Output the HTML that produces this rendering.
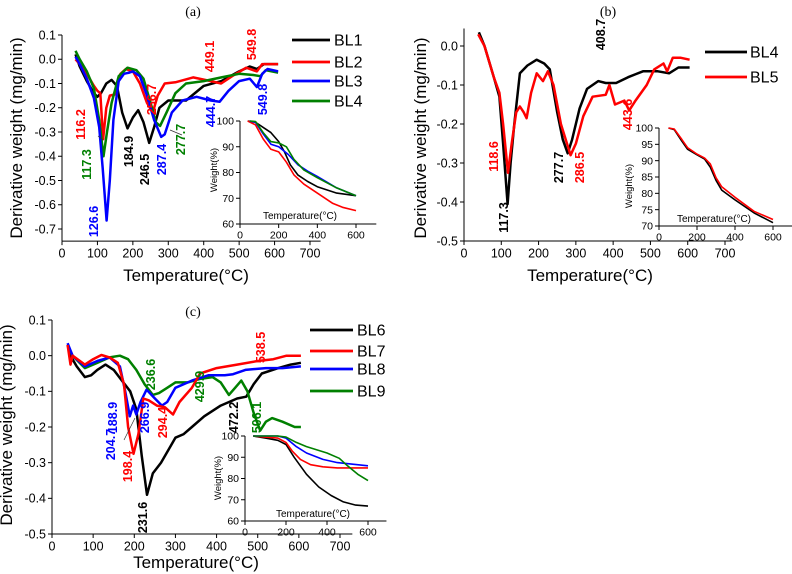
<!DOCTYPE html>
<html><head><meta charset="utf-8">
<style>
html,body{margin:0;padding:0;background:#fff;}
svg{display:block;font-family:"Liberation Sans",Arial,sans-serif;}
</style></head>
<body>
<svg id="fig" width="792" height="574" viewBox="0 0 792 574" xmlns="http://www.w3.org/2000/svg"></svg>
<script>
// ---------- DATA (temperature °C, derivative weight mg/min) ----------
const aBL1T=[38,50,70,90,100,110,125,140,155,170,185,200,215,230,246,260,275,300,350,400,450,500,530,550,570,610];
const aBL1V=[0.02,-0.03,-0.09,-0.14,-0.155,-0.14,-0.1,-0.085,-0.11,-0.22,-0.285,-0.24,-0.21,-0.26,-0.345,-0.28,-0.2,-0.17,-0.17,-0.11,-0.09,-0.05,-0.03,-0.04,-0.02,-0.02];
const aBL2T=[38,50,70,90,100,108,116,125,135,150,165,180,200,220,240,256,270,290,320,370,420,449,480,520,550,565,610];
const aBL2V=[0.0,-0.02,-0.06,-0.11,-0.13,-0.14,-0.33,-0.2,-0.15,-0.145,-0.06,-0.04,-0.05,-0.1,-0.18,-0.22,-0.15,-0.1,-0.095,-0.075,-0.09,-0.1,-0.07,-0.035,-0.05,-0.02,-0.02];
const aBL3T=[38,50,70,90,105,115,126,135,145,160,175,190,200,220,240,260,280,290,310,340,380,420,445,470,500,530,550,565,580,610];
const aBL3V=[0.01,-0.02,-0.08,-0.16,-0.28,-0.45,-0.665,-0.5,-0.25,-0.09,-0.06,-0.055,-0.05,-0.07,-0.15,-0.25,-0.32,-0.31,-0.22,-0.17,-0.155,-0.17,-0.175,-0.13,-0.09,-0.08,-0.115,-0.06,-0.04,-0.05];
const aBL4T=[38,50,70,90,105,117,127,140,160,185,210,230,250,265,277,295,320,350,400,450,500,540,560,575,610];
const aBL4V=[0.035,0.0,-0.05,-0.12,-0.25,-0.4,-0.3,-0.18,-0.07,-0.035,-0.045,-0.08,-0.18,-0.26,-0.275,-0.22,-0.14,-0.1,-0.09,-0.075,-0.06,-0.065,-0.07,-0.045,-0.055];
const aiBL1T=[40,80,120,160,200,230,260,300,350,400,500,600];
const aiBL1V=[100,99.5,97.5,95.5,92,88,83,79,76.5,74.5,72,71];
const aiBL2T=[40,80,120,160,200,240,280,330,400,480,530,600];
const aiBL2V=[100,98.5,93,89,88,84,79,75.5,72,68,66.5,65.2];
const aiBL3T=[50,80,120,160,200,250,300,350,400,500,600];
const aiBL3V=[100,99.5,95,91,90,87,83,80.5,78.5,74,71];
const aiBL4T=[50,80,120,160,200,240,280,330,400,500,600];
const aiBL4V=[100,99.8,95.5,92,91.5,90,85,81,78,74,71];
const bBL4T=[40,55,80,95,105,117,125,135,150,170,195,215,230,250,265,278,290,310,330,360,380,408,440,480,520,550,575,605];
const bBL4V=[0.035,0.0,-0.08,-0.13,-0.25,-0.405,-0.3,-0.2,-0.07,-0.05,-0.035,-0.045,-0.06,-0.17,-0.24,-0.275,-0.24,-0.16,-0.11,-0.09,-0.095,-0.095,-0.08,-0.065,-0.065,-0.07,-0.055,-0.055];
const bBL5T=[38,55,80,95,105,118,128,140,150,160,168,180,195,212,225,240,260,286,300,320,345,380,390,405,430,443,460,490,510,535,545,560,580,605];
const bBL5V=[0.03,0.0,-0.08,-0.12,-0.2,-0.325,-0.25,-0.17,-0.155,-0.17,-0.185,-0.12,-0.07,-0.09,-0.065,-0.1,-0.2,-0.28,-0.25,-0.18,-0.13,-0.125,-0.1,-0.15,-0.14,-0.165,-0.14,-0.1,-0.06,-0.045,-0.065,-0.03,-0.03,-0.035];
const biBL4T=[50,80,120,150,200,240,270,300,330,400,500,600];
const biBL4V=[100,99.5,96,93.5,91.8,90.5,88,84,81,78,74,71];
const biBL5T=[50,80,120,150,200,240,270,300,330,400,500,600];
const biBL5V=[100,99.7,96.5,94,92,90.8,89,84.8,82,78.8,74.5,72];
const cBL6T=[38,45,60,80,95,110,130,150,170,190,205,218,231,245,265,285,300,320,340,370,410,450,472,490,510,550,580,605];
const cBL6V=[0.03,0.0,-0.03,-0.06,-0.055,-0.04,-0.025,-0.04,-0.07,-0.1,-0.15,-0.28,-0.39,-0.33,-0.3,-0.26,-0.23,-0.22,-0.2,-0.17,-0.14,-0.12,-0.115,-0.08,-0.05,-0.035,-0.025,-0.02];
const cBL7T=[38,45,50,80,100,120,140,160,175,185,198,210,222,235,255,275,294,310,340,360,400,450,500,538,570,605];
const cBL7V=[0.03,-0.025,0.0,-0.025,-0.01,0.002,-0.005,-0.02,-0.08,-0.2,-0.275,-0.22,-0.12,-0.125,-0.14,-0.145,-0.165,-0.13,-0.09,-0.05,-0.035,-0.025,-0.015,-0.01,0.0,0.0];
const cBL8T=[38,50,80,110,140,165,178,189,197,205,215,230,250,267,280,300,340,380,420,440,470,520,560,605];
const cBL8V=[0.035,0.0,-0.03,-0.015,-0.005,-0.03,-0.1,-0.17,-0.14,-0.165,-0.13,-0.095,-0.12,-0.14,-0.13,-0.09,-0.07,-0.055,-0.055,-0.052,-0.04,-0.035,-0.035,-0.03];
const cBL9T=[38,50,80,110,140,165,185,205,225,245,260,280,300,330,360,390,410,430,445,460,475,490,506,520,535,560,590,605];
const cBL9V=[0.03,0.0,-0.035,-0.02,-0.005,0.0,-0.01,-0.04,-0.08,-0.11,-0.105,-0.09,-0.075,-0.075,-0.065,-0.06,-0.075,-0.11,-0.09,-0.07,-0.1,-0.16,-0.21,-0.185,-0.175,-0.185,-0.2,-0.2];
const ciBL6T=[40,100,160,200,240,300,360,420,480,540,600];
const ciBL6V=[100,99,98,96,90,82,76,72,69,67.5,67];
const ciBL7T=[40,100,160,200,230,270,320,380,450,600];
const ciBL7V=[100,99.5,99,97,93,89,86.5,85.5,85,85];
const ciBL8T=[40,160,200,250,300,380,450,600];
const ciBL8V=[100,100,99,95,92,89,87.5,86];
const ciBL9T=[40,160,200,250,300,400,460,500,550,600];
const ciBL9V=[100,100,99.5,97,95,92,89.5,86,82,79];
const mainXTicks=[0,100,200,300,400,500,600,700];
const aYTicks=[0.1,0.0,-0.1,-0.2,-0.3,-0.4,-0.5,-0.6,-0.7];
const bYTicks=[0.0,-0.1,-0.2,-0.3,-0.4,-0.5];
const cYTicks=[0.1,0.0,-0.1,-0.2,-0.3,-0.4,-0.5];
const insetXTicks=[0,200,400,600];
const aiYTicks=[60,70,80,90,100];
const biYTicks=[70,75,80,85,90,95,100];
const ciYTicks=[60,70,80,90,100];

const NS="http://www.w3.org/2000/svg";
const svg=document.getElementById('fig');
function mk(tag,attrs,parent){const e=document.createElementNS(NS,tag);for(const k in attrs)e.setAttribute(k,attrs[k]);(parent||svg).appendChild(e);return e;}
function txt(s,x,y,size,fill,anchor,rot,weight,parent){
  const t=mk('text',{x:x,y:y,'font-size':size,fill:fill||'#000','text-anchor':anchor||'middle'},parent);
  if(weight)t.setAttribute('font-weight',weight);
  if(rot)t.setAttribute('transform','rotate('+rot+' '+x+' '+y+')');
  t.textContent=s;return t;}
function lin(x0,px0,x1,px1){return v=>px0+(v-x0)*(px1-px0)/(x1-x0);}

function axes(g,X,Y,xt,yt,xmin,xmax,ymin,ymax,fs,xFmt,yFmt,name){
  const ax=mk('g',{},g);
  
  
  mk('line',{x1:X(xmin),y1:Y(ymin),x2:X(xmax),y2:Y(ymin),stroke:'#000','stroke-width':1},ax);
  mk('line',{x1:X(xmin),y1:Y(ymin),x2:X(xmin),y2:Y(ymax),stroke:'#000','stroke-width':1},ax);
  xt.forEach(v=>{mk('line',{x1:X(v),y1:Y(ymin),x2:X(v),y2:Y(ymin)+4,stroke:'#000'},ax);
    txt(xFmt(v),X(v),Y(ymin)+4+fs,fs,'#000','middle',0,null,ax);});
  yt.forEach(v=>{mk('line',{x1:X(xmin),y1:Y(v),x2:X(xmin)-4,y2:Y(v),stroke:'#000'},ax);
    txt(yFmt(v),X(xmin)-6,Y(v)+fs*0.35,fs,'#000','end',0,null,ax);});
}
function series(g,X,Y,T,V,color,w,name){
  let d='';T.forEach((t,i)=>{d+=(i?'L':'M')+X(t).toFixed(1)+' '+Y(V[i]).toFixed(1);});
  const p=mk('path',{d:d,fill:'none',stroke:color,'stroke-width':w,'stroke-linejoin':'round'},g);
  
  
}
function legend(g,x1,x2,tx,items){
  items.forEach(it=>{
    const lg=mk('g',{},g);
    
    
    mk('line',{x1:x1,y1:it[2],x2:x2,y2:it[2],stroke:it[1],'stroke-width':2.8},lg);
    txt(it[0],tx,it[2]+5.5,16,'#000','start',0,null,lg);
  });
}
function labels(g,items){items.forEach(it=>{const t=txt(it[0],it[1],it[2]+4.5,12.5,it[3],'middle',-90,'bold',g);
  });}
const f1=v=>v.toFixed(1), f0=v=>String(v);
const C={k:'#000',r:'#ff0000',b:'#0000ff',g:'#008000'};

// ================= PANEL A =================
{
const g=mk('g',{});
const X=lin(0,62,700,310), Y=lin(0.1,35,-0.7,229);
txt('(a)',193,16,14,'#000','middle',0,null,g).setAttribute('font-family','Liberation Serif');
axes(g,X,Y,mainXTicks,aYTicks,0,730,-0.75,0.1,12.5,f0,f1,'panel-a-axes');
txt('Derivative weight (mg/min)',22,138,17,'#000','middle',-90,null,g);
txt('Temperature(°C)',186,281,17,'#000','middle',0,null,g);
series(g,X,Y,aBL1T,aBL1V,C.k,2.5,'series-bl1');
series(g,X,Y,aBL2T,aBL2V,C.r,2.5,'series-bl2');
series(g,X,Y,aBL4T,aBL4V,C.g,2.5,'series-bl4');
series(g,X,Y,aBL3T,aBL3V,C.b,2.5,'series-bl3');
legend(g,292,330,334,[['BL1',C.k,40],['BL2',C.r,62],['BL3',C.b,81],['BL4',C.g,101]]);
labels(g,[['116.2',85,120,C.r],['117.3',91,160,C.g],['126.6',98,217,C.b],['184.9',133,147,C.k],['246.5',149,165,C.k],['287.4',166,155,C.b],['256.7',156,95,C.r],['277.7',185,135,C.g],['444.7',215,107,C.b],['449.1',214,52,C.r],['549.8',256,40,C.r],['549.8',267,95,C.b]]);
mk('line',{x1:98,y1:136,x2:103,y2:140,stroke:'#333','stroke-width':0.7},g);
mk('line',{x1:170,y1:130,x2:182,y2:135,stroke:'#333','stroke-width':0.7},g);
const Xi=lin(0,240,600,356), Yi=lin(100,121,60,224);
const ig=mk('g',{},g);
axes(ig,Xi,Yi,insetXTicks,aiYTicks,0,705,60,100,10.5,f0,f0,'inset-a-axes');
txt('Weight(%)',217,170,9.5,'#000','middle',-90,null,ig);
txt('Temperature(°C)',300,219,10,'#000','middle',0,null,ig);
series(ig,Xi,Yi,aiBL1T,aiBL1V,C.k,1.6,'inset-bl1');
series(ig,Xi,Yi,aiBL2T,aiBL2V,C.r,1.6,'inset-bl2');
series(ig,Xi,Yi,aiBL3T,aiBL3V,C.b,1.6,'inset-bl3');
series(ig,Xi,Yi,aiBL4T,aiBL4V,C.g,1.6,'inset-bl4');
}
// ================= PANEL B =================
{
const g=mk('g',{});
const X=lin(0,464,700,725), Y=lin(0,46,-0.5,241);
txt('(b)',608,16,14,'#000','middle',0,null,g).setAttribute('font-family','Liberation Serif');
axes(g,X,Y,mainXTicks,bYTicks,0,720,-0.5,0.045,12.5,f0,f1,'panel-b-axes');
txt('Derivative weight (mg/min)',426,138,17,'#000','middle',-90,null,g);
txt('Temperature(°C)',590,281,17,'#000','middle',0,null,g);
series(g,X,Y,bBL4T,bBL4V,C.k,2.5,'series-bl4');
series(g,X,Y,bBL5T,bBL5V,C.r,2.5,'series-bl5');
legend(g,705,747,750,[['BL4',C.k,52],['BL5',C.r,77]]);
labels(g,[['118.6',498,152,C.r],['117.3',508,213,C.k],['277.7',563,163,C.k],['286.5',584,163,C.r],['408.7',605,30,C.k],['443.6',632,110,C.r]]);
const Xi=lin(0,659,600,773), Yi=lin(100,128,70,226);
const ig=mk('g',{},g);
axes(ig,Xi,Yi,insetXTicks,biYTicks,0,700,70,100,10.5,f0,f0,'inset-b-axes');
txt('Weight(%)',632,186,9.5,'#000','middle',-90,null,ig);
txt('Temperature(°C)',714,222,10,'#000','middle',0,null,ig);
series(ig,Xi,Yi,biBL4T,biBL4V,C.k,1.6,'inset-bl4');
series(ig,Xi,Yi,biBL5T,biBL5V,C.r,1.6,'inset-bl5');
}
// ================= PANEL C =================
{
const g=mk('g',{});
const X=lin(0,52,700,340), Y=lin(0.1,320,-0.5,534);
txt('(c)',193,316,14,'#000','middle',0,null,g).setAttribute('font-family','Liberation Serif');
axes(g,X,Y,mainXTicks,cYTicks,0,730,-0.5,0.1,12.5,f0,f1,'panel-c-axes');
txt('Derivative weight (mg/min)',12,425,17,'#000','middle',-90,null,g);
txt('Temperature(°C)',196,568,17,'#000','middle',0,null,g);
series(g,X,Y,cBL6T,cBL6V,C.k,2.5,'series-bl6');
series(g,X,Y,cBL9T,cBL9V,C.g,2.5,'series-bl9');
series(g,X,Y,cBL8T,cBL8V,C.b,2.5,'series-bl8');
series(g,X,Y,cBL7T,cBL7V,C.r,2.5,'series-bl7');
legend(g,310,353,357,[['BL6',C.k,330],['BL7',C.r,351],['BL8',C.b,369],['BL9',C.g,391]]);
labels(g,[['188.9',117,413,C.b],['204.7',115,440,C.b],['198.4',132,462,C.r],['231.6',147,513,C.k],['236.6',155,370,C.g],['266.9',149,413,C.b],['294.4',167,418,C.r],['429.9',204,382,C.g],['472.2',238,413,C.k],['506.1',261,413,C.g],['538.5',265,343,C.r]]);
mk('line',{x1:124,y1:440,x2:135,y2:418,stroke:'#333','stroke-width':0.7},g);
const Xi=lin(0,245,600,368), Yi=lin(100,436,60,521);
const ig=mk('g',{},g);
axes(ig,Xi,Yi,insetXTicks,ciYTicks,0,690,60,100,10.5,f0,f0,'inset-c-axes');
txt('Weight(%)',221,478,9.5,'#000','middle',-90,null,ig);
txt('Temperature(°C)',313,517,10,'#000','middle',0,null,ig);
series(ig,Xi,Yi,ciBL6T,ciBL6V,C.k,1.6,'inset-bl6');
series(ig,Xi,Yi,ciBL7T,ciBL7V,C.r,1.6,'inset-bl7');
series(ig,Xi,Yi,ciBL8T,ciBL8V,C.b,1.6,'inset-bl8');
series(ig,Xi,Yi,ciBL9T,ciBL9V,C.g,1.6,'inset-bl9');
}
</script>
</body></html>
